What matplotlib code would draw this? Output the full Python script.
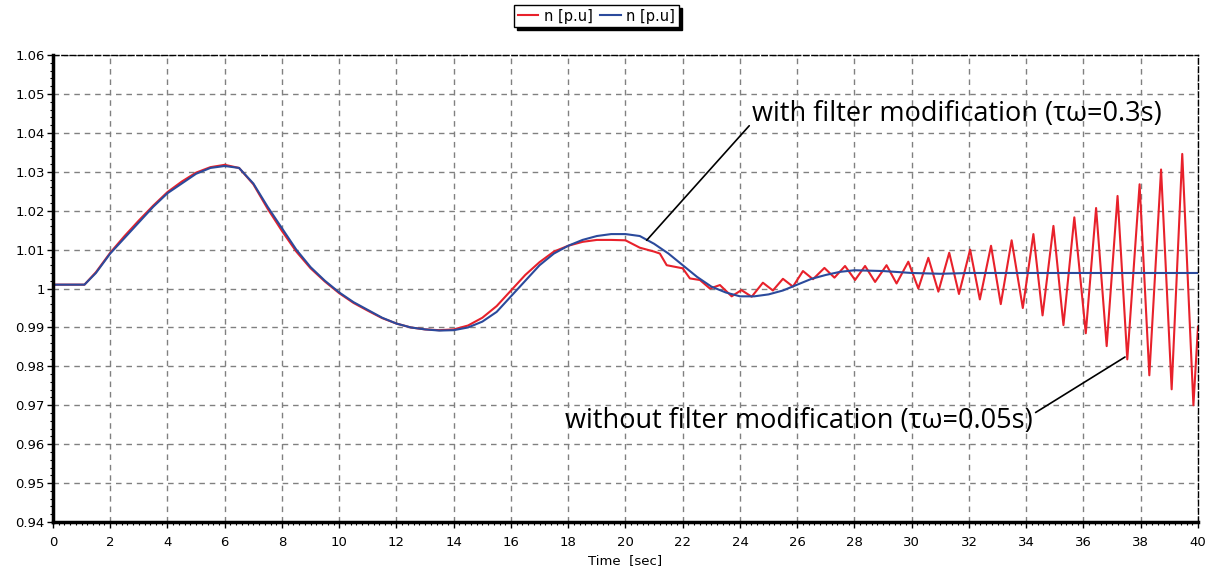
import matplotlib
matplotlib.use("Agg")
import matplotlib.pyplot as plt
from matplotlib.ticker import MultipleLocator, AutoMinorLocator

# blue trace: with filter modification (tau_w = 0.3 s)
blue_t = [0, 1.1, 1.5, 2, 2.5, 3, 3.5, 4, 4.5, 5, 5.5, 6, 6.5, 7, 7.5, 8, 8.5, 9, 9.5,
          10, 10.5, 11, 11.5, 12, 12.5, 13, 13.5, 14, 14.5, 15, 15.5, 16, 16.5, 17, 17.5,
          18, 18.5, 19, 19.5, 20, 20.5, 21, 21.5, 22, 22.5, 23, 23.5, 24, 24.5, 25, 25.5,
          26, 26.5, 27, 27.5, 28, 29, 30, 31, 32, 40]
blue_n = [1.001, 1.001, 1.004, 1.009, 1.013, 1.017, 1.021, 1.0245, 1.027, 1.0295, 1.031, 1.0315,
          1.031, 1.027, 1.021, 1.0155, 1.010, 1.0055, 1.002, 0.999, 0.9965, 0.9945, 0.9925,
          0.991, 0.990, 0.9895, 0.9892, 0.9893, 0.990, 0.9915, 0.994, 0.998, 1.002, 1.006,
          1.009, 1.011, 1.0125, 1.0135, 1.014, 1.014, 1.0135, 1.0115, 1.009, 1.006, 1.003,
          1.0005, 0.999, 0.998, 0.998, 0.9985, 0.9995, 1.001, 1.0025, 1.0035, 1.0043, 1.0047,
          1.0045, 1.004, 1.0038, 1.004, 1.004]

# red trace: without filter modification (tau_w = 0.05 s)
red_t = [0, 1.1, 1.5, 2, 2.5, 3, 3.5, 4, 4.5, 5, 5.5, 6, 6.5, 7, 7.5, 8, 8.5, 9, 9.5,
         10, 10.5, 11, 11.5, 12, 12.5, 13, 13.5, 14, 14.5, 15, 15.5, 16, 16.5, 17, 17.5,
         18, 18.5, 19, 19.5, 20, 20.5, 21, 21.2, 21.44, 22.0, 22.25, 22.6, 22.95, 23.3,
         23.71, 24.05, 24.41, 24.8, 25.15, 25.5, 25.85, 26.2, 26.55, 26.95, 27.3, 27.67,
         28.02, 28.37, 28.72, 29.12, 29.47, 29.88, 30.23, 30.58, 30.93, 31.31, 31.65,
         32.04, 32.38, 32.77, 33.11, 33.49, 33.88, 34.25, 34.57, 34.95, 35.30, 35.68,
         36.08, 36.44, 36.81, 37.19, 37.53, 37.96, 38.30, 38.71, 39.08, 39.45, 39.84, 40.0]
red_n = [1.001, 1.001, 1.0042, 1.0092, 1.0135, 1.0175, 1.0213, 1.0248, 1.0275, 1.0298,
         1.0312, 1.0318, 1.031, 1.0268, 1.0205, 1.0148, 1.0095, 1.0052, 1.0018, 0.9988,
         0.9963, 0.9943, 0.9924, 0.991, 0.990, 0.9895, 0.9893, 0.9895, 0.9905, 0.9925,
         0.9955, 0.9995, 1.0035, 1.0068, 1.0095, 1.011, 1.012, 1.0125, 1.0125, 1.0124,
         1.0105, 1.0095, 1.009, 1.006, 1.0052, 1.0026, 1.0022, 1.0000, 1.0009,
         0.998, 0.9996, 0.9979, 1.0015, 0.9995, 1.0025, 1.0005, 1.0045, 1.0024, 1.0053,
         1.0028, 1.0058, 1.0022, 1.0058, 1.0017, 1.0060, 1.0013, 1.0069, 1.0000, 1.0079,
         0.9992, 1.0092, 0.9986, 1.0100, 0.9972, 1.0110, 0.9960, 1.0124, 0.9950, 1.0140,
         0.9931, 1.0161, 0.9906, 1.0183, 0.9885, 1.0207, 0.9852, 1.0238, 0.9818, 1.0268,
         0.9777, 1.0306, 0.9741, 1.0346, 0.9700, 0.9902]

legend_labels = ["n [p.u]", "n [p.u]"]
note_with = "with filter modification (\u03c4\u03c9=0.3s)"
note_without = "without filter modification (\u03c4\u03c9=0.05s)"

fig = plt.figure(figsize=(12.15, 5.74), dpi=100)
ax = fig.add_axes([0.0436, 0.0906, 0.9424, 0.8134])

ax.plot(red_t, red_n, color="#e8212b", linewidth=1.5, label=legend_labels[0])
ax.plot(blue_t, blue_n, color="#2b4a9c", linewidth=1.5, label=legend_labels[1])

ax.set_xlim(0, 40)
ax.set_ylim(0.94, 1.06)
ax.xaxis.set_major_locator(MultipleLocator(2))
ax.yaxis.set_major_locator(MultipleLocator(0.01))
ax.xaxis.set_minor_locator(AutoMinorLocator(10))
ax.yaxis.set_minor_locator(AutoMinorLocator(5))
ax.yaxis.set_major_formatter(plt.FuncFormatter(lambda v, p: "1" if abs(v - 1) < 1e-9 else f"{v:.2f}"))

ax.grid(True, which="major", color="#808080", linestyle=(0, (4, 3.5)), linewidth=1)
ax.tick_params(axis="both", which="major", length=4, width=1, labelsize=9.5, colors="black", pad=2)
ax.tick_params(axis="both", which="minor", length=2, width=0.8)
ax.tick_params(axis="x", pad=6)

ax.spines["left"].set_linewidth(2.5)
ax.spines["bottom"].set_linewidth(2.5)
for s in ["top", "right"]:
    ax.spines[s].set_linestyle((0, (4, 2)))
    ax.spines[s].set_linewidth(1)

ax.set_xlabel("Time  [sec]", fontsize=9.5, labelpad=4)

ax.annotate(note_with, xy=(20.74, 1.0124), xytext=(24.42, 1.0448),
            fontsize=19.5, family=["Open Sans", "DejaVu Sans"], va="center", ha="left",
            arrowprops=dict(arrowstyle="-", color="black", lw=1.2, shrinkA=0, shrinkB=0,
                            relpos=(0, 0.2)))
ax.annotate(note_without, xy=(37.45, 0.9824), xytext=(17.89, 0.9659),
            fontsize=19.5, family=["Open Sans", "DejaVu Sans"], va="center", ha="left",
            arrowprops=dict(arrowstyle="-", color="black", lw=1.2, shrinkA=0, shrinkB=0,
                            relpos=(1.0, 0.75)))

leg = fig.legend(loc="center", bbox_to_anchor=(0.491, 0.972), ncol=2, fontsize=10.5,
                 frameon=True, fancybox=False, shadow={"color": "black", "alpha": 1},
                 handlelength=1.4, handletextpad=0.4, columnspacing=0.5,
                 borderpad=0.25, borderaxespad=0)
leg.get_frame().set_edgecolor("black")
leg.get_frame().set_linewidth(1)

fig.savefig("out.png", dpi=100)
